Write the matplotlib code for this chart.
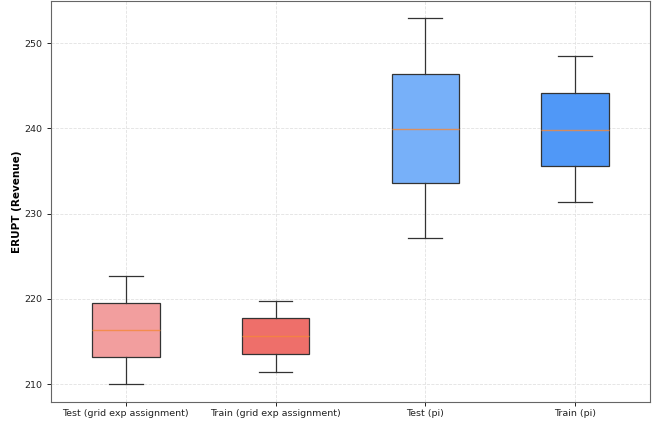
import matplotlib.pyplot as plt

# data
labels = ["Test (grid exp assignment)", "Train (grid exp assignment)", "Test (pi)", "Train (pi)"]
whislo = [210.0, 211.4, 227.2, 231.4]
q1 = [213.2, 213.5, 233.6, 235.6]
med = [216.3, 215.6, 239.9, 239.8]
q3 = [219.5, 217.7, 246.4, 244.1]
whishi = [222.7, 219.8, 252.9, 248.5]
colors = ["#F29E9E", "#EE6F6A", "#77B0F9", "#5098F7"]

stats = []
for i, lab in enumerate(labels):
    stats.append({"label": lab, "whislo": whislo[i], "q1": q1[i], "med": med[i],
                  "q3": q3[i], "whishi": whishi[i], "fliers": []})

fig = plt.figure(figsize=(6.68, 4.23), dpi=100)
ax = fig.add_axes([0.0763, 0.0496, 0.8967, 0.949])

bp = ax.bxp(stats, widths=0.45, patch_artist=True, showfliers=False,
            boxprops=dict(edgecolor="#333333", linewidth=0.9),
            whiskerprops=dict(color="#333333", linewidth=0.9),
            capprops=dict(color="#333333", linewidth=0.9),
            medianprops=dict(color="#F5883A", linewidth=1.0, alpha=0.8))
for patch, c in zip(bp["boxes"], colors):
    patch.set_facecolor(c)

ax.set_ylim(207.9, 255.0)
ax.set_xlim(0.5, 4.5)
ax.set_yticks([210, 220, 230, 240, 250])
ax.grid(True, linestyle="--", color="#e2e2e2", linewidth=0.6)
ax.set_axisbelow(True)
ax.tick_params(labelsize=6.8, colors="#222222", length=3, width=0.7)
ax.tick_params(axis="x", pad=2)
for s in ax.spines.values():
    s.set_color("#666666")
ax.set_ylabel("ERUPT (Revenue)", fontsize=7.5, fontweight="bold", labelpad=1)

plt.savefig("out.png", dpi=100)
